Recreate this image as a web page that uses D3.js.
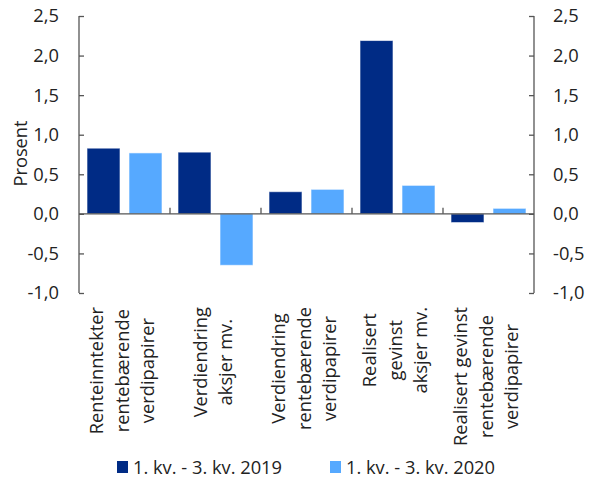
<!DOCTYPE html>
<html>
<head>
<meta charset="utf-8">
<script src="https://cdn.jsdelivr.net/npm/d3@7"></script>
<style>
  html, body { margin: 0; padding: 0; background: #fff; }
  svg { display: block; font-family: "Open Sans", sans-serif; }
</style>
</head>
<body>
<svg id="chart" width="593" height="482"></svg>
<script>
const categories = [
  ["Renteinntekter", "rentebærende", "verdipapirer"],
  ["Verdiendring", "aksjer mv."],
  ["Verdiendring", "rentebærende", "verdipapirer"],
  ["Realisert", "gevinst", "aksjer mv."],
  ["Realisert gevinst", "rentebærende", "verdipapirer"]
];
const seriesNames = ["1. kv. - 3. kv. 2019", "1. kv. - 3. kv. 2020"];
const values2019 = [0.83, 0.78, 0.28, 2.19, -0.11];
const values2020 = [0.77, -0.65, 0.31, 0.36, 0.07];
const yTicks = [-1.0, -0.5, 0.0, 0.5, 1.0, 1.5, 2.0, 2.5];
const colors = ["#002B85", "#56A9FF"];

const svg = d3.select("#chart");
const pLeft = 79, pRight = 534, pTop = 16, pBottom = 293;
const fmt = v => d3.format(".1f")(v).replace(".", ",").replace("−", "-");
const FS = 18.3;

const catIdx = categories.map((c, i) => i);
const x = d3.scaleBand().domain(catIdx).range([pLeft, pRight]).paddingInner(0).paddingOuter(0);
const xs = d3.scaleBand().domain([0, 1]).range([0, x.bandwidth()]).paddingInner(9/42).paddingOuter(8/42);
const y = d3.scaleLinear().domain([-1, 2.5]).range([pBottom, pTop]);

const axisColor = "#555";
const textColor = "#222";

// bars
const seriesVals = [values2019, values2020];
seriesVals.forEach((vals, s) => {
  svg.append("g").selectAll("rect").data(vals).join("rect")
    .attr("x", (d, i) => x(i) + xs(s))
    .attr("width", xs.bandwidth())
    .attr("y", d => y(Math.max(0, d)))
    .attr("height", d => Math.abs(y(d) - y(0)))
    .attr("fill", colors[s])
    .attr("stroke", "#fff")
    .attr("stroke-opacity", 0.6)
    .attr("stroke-width", 1);
});

// left axis
const yAxisL = d3.axisLeft(y).tickValues(yTicks).tickSize(-5).tickPadding(20).tickFormat(fmt);
const gl = svg.append("g").attr("transform", `translate(${pLeft},0)`).call(yAxisL);
// right axis
const yAxisR = d3.axisRight(y).tickValues(yTicks).tickSize(-5).tickPadding(19).tickFormat(fmt);
const gr = svg.append("g").attr("transform", `translate(${pRight},0)`).call(yAxisR);
[gl, gr].forEach(g => {
  g.select(".domain").attr("stroke", axisColor).attr("stroke-width", 1.3)
    .attr("d", `M0,${pTop}V${pBottom}`);
  g.selectAll(".tick line").attr("stroke", axisColor).attr("stroke-width", 1.3);
  g.selectAll(".tick text").attr("fill", textColor).attr("font-size", FS)
    .attr("font-family", "Open Sans");
});

// zero line with category ticks
const xAxis = d3.axisTop(x).tickValues(catIdx.slice(1)).tickSize(6).tickFormat("");
const gx = svg.append("g").attr("transform", `translate(0,${y(0)})`).call(xAxis);
gx.select(".domain").attr("stroke", axisColor).attr("stroke-width", 1.3)
  .attr("d", `M${pLeft},0H${pRight}`);
gx.selectAll(".tick").attr("transform", d => `translate(${x(d)},0)`);
gx.selectAll(".tick line").attr("stroke", axisColor).attr("stroke-width", 1.3);

// category labels (rotated)
const labelTop = 307, lineGap = 25.5;
categories.forEach((lines, i) => {
  const cx = x(i) + x.bandwidth() / 2 + 4;
  const g = svg.append("g");
  const texts = lines.map((t, j) => g.append("text")
    .attr("font-size", FS).attr("fill", textColor).attr("text-anchor", "middle")
    .text(t));
  const maxLen = d3.max(texts, t => t.node().getComputedTextLength());
  texts.forEach((t, j) => {
    const bx = cx + (j - (lines.length - 1) / 2) * lineGap;
    t.attr("transform", `translate(${bx},${labelTop + maxLen / 2}) rotate(-90)`);
  });
});

// y title
svg.append("text").attr("font-size", FS).attr("fill", textColor)
  .attr("text-anchor", "middle")
  .attr("transform", `translate(27,${(pTop + pBottom) / 2 - 1}) rotate(-90)`)
  .text("Prosent");

// legend
const legendX = [117, 330];
seriesNames.forEach((name, s) => {
  svg.append("rect").attr("x", legendX[s]).attr("y", 461).attr("width", 11).attr("height", 12)
    .attr("fill", colors[s]);
  svg.append("text").attr("x", legendX[s] + 16).attr("y", 473.5)
    .attr("font-size", FS).attr("fill", textColor).text(name);
});
</script>
</body>
</html>
